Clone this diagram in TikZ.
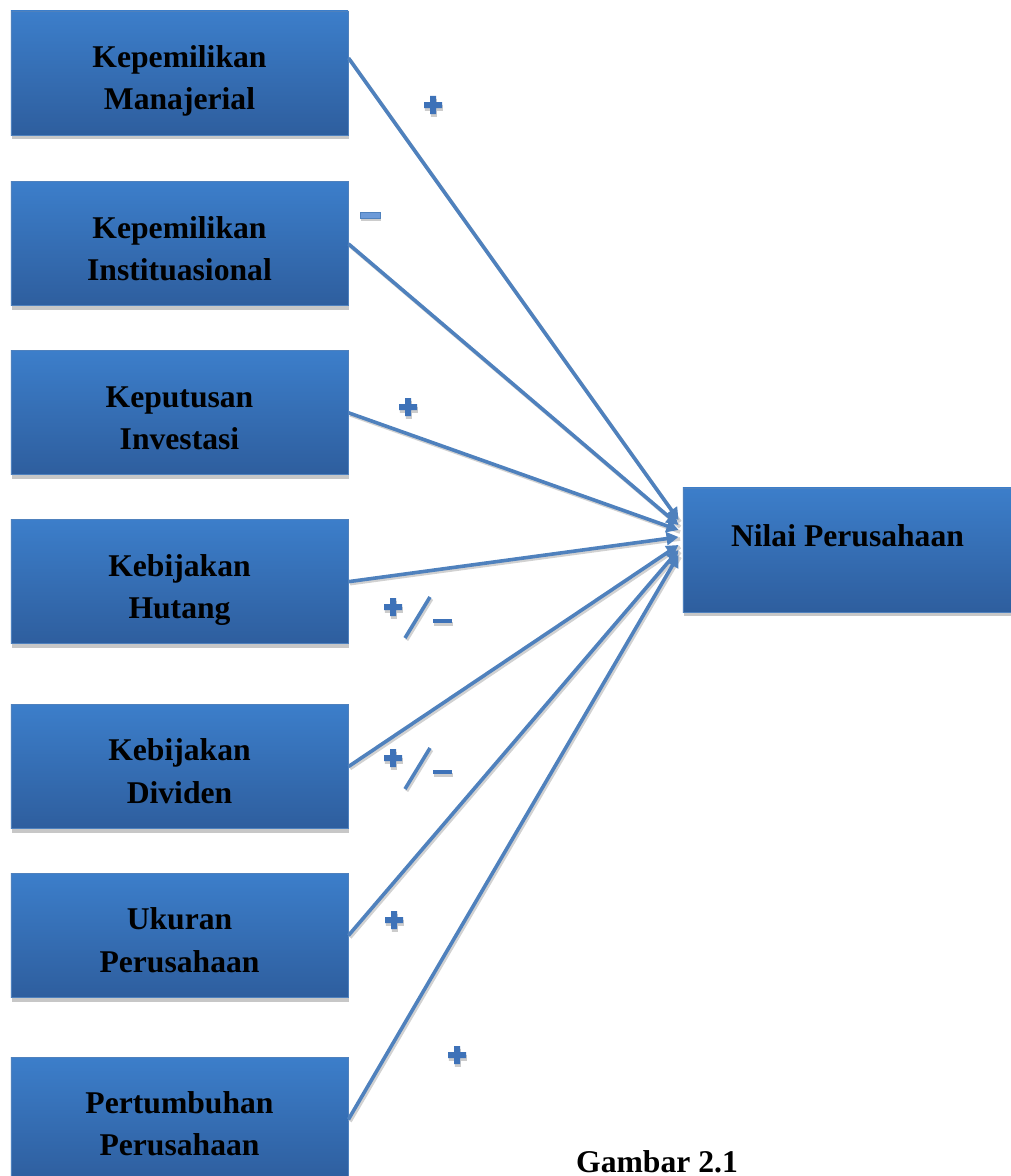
\documentclass[tikz,border=0pt]{standalone}
\usepackage{fontspec}
\setmainfont{Liberation Serif}
\usetikzlibrary{positioning,shadows,arrows.meta}

\definecolor{boxtop}{RGB}{60,126,202}
\definecolor{boxbot}{RGB}{46,94,158}
\definecolor{boxline}{RGB}{79,129,189}
\definecolor{linkblue}{RGB}{79,129,189}
\definecolor{signblue}{RGB}{62,114,184}
\definecolor{minusfill}{RGB}{108,154,216}

\tikzset{
  varbox/.style={draw=boxline, line width=0.6pt, top color=boxtop, bottom color=boxbot,
    minimum width=8.425cm, minimum height=3.1cm, align=center,
    text height=57pt, text depth=5pt,
    font=\bfseries\fontsize{22.5}{30}\selectfont,
    drop shadow={shadow xshift=0.02cm, shadow yshift=-0.11cm, fill=black!22, opacity=1}},
  link/.style={draw=linkblue, line width=0.09cm, -{Triangle[length=0.3cm,width=0.32cm]}},
  linkshadow/.style={draw=black!18, line width=0.09cm, transform canvas={xshift=0.04cm, yshift=-0.05cm}},
  signshadow/.style={drop shadow={shadow xshift=0.02cm, shadow yshift=-0.07cm, fill=black!20, opacity=1}}
}

\begin{document}
\begin{tikzpicture}[x=0.025cm, y=-0.025cm]
  \useasboundingbox (0,0) rectangle (1011,1176);
  \clip (0,0) rectangle (1011,1176);

  % variabel independen
  \node[varbox] (manajerial) at (179.5,73) {Kepemilikan\\Manajerial};
  \node[varbox, below=1.15cm of manajerial] (institusi) {Kepemilikan\\Instituasional};
  \node[varbox, below=1.1cm of institusi] (investasi) {Keputusan\\Investasi};
  \node[varbox, below=1.1cm of investasi] (hutang) {Kebijakan\\Hutang};
  \node[varbox, below=1.5cm of hutang] (dividen) {Kebijakan\\Dividen};
  \node[varbox, below=1.1cm of dividen] (ukuran) {Ukuran\\Perusahaan};
  \node[varbox, below=1.475cm of ukuran] (pertumbuhan) {Pertumbuhan\\Perusahaan};

  % variabel dependen
  \node[varbox, minimum width=8.225cm, text height=, text depth=] (nilai) at (847.5,550) {\raisebox{21pt}{Nilai Perusahaan}};

  \foreach \src/\sy/\ey in {manajerial/0.375cm/0.75cm, institusi/0cm/0.625cm, investasi/0cm/0.5cm,
      hutang/0cm/0.325cm, dividen/0cm/0.125cm, ukuran/0cm/0cm, pertumbuhan/0cm/-0.125cm} {
    \draw[linkshadow] ([yshift=\sy]\src.east) -- ([xshift=-0.1cm, yshift=\ey]nilai.west);
    \draw[link] ([yshift=\sy]\src.east) -- ([xshift=-0.1cm, yshift=\ey]nilai.west);
  }

  % tanda hubungan
  \foreach \px/\py in {433/105, 408/407, 393/607, 393/758, 394/920, 457/1055}
    \fill[signblue, signshadow] (\px-9,\py-3) rectangle (\px+9,\py+3) (\px-3,\py-9) rectangle (\px+3,\py+9);
  \draw[boxline, fill=minusfill, line width=0.6pt, signshadow] (360,212) rectangle (380,218);
  \foreach \py in {0, 151} {
    \draw[linkshadow] (405,638+\py) -- (430,597+\py);
    \draw[linkblue, line width=0.09cm] (405,638+\py) -- (430,597+\py);
    \fill[signblue, signshadow] (433,619+\py) rectangle (452,623+\py);
  }

  \node[font=\bfseries\fontsize{22.5}{30}\selectfont, anchor=base, inner sep=0pt] (gambar) at (657,1172) {Gambar 2.1};
\end{tikzpicture}
\end{document}
